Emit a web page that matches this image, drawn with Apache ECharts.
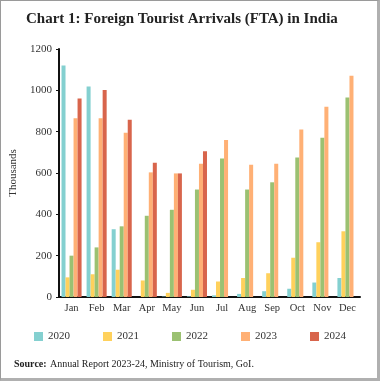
<!DOCTYPE html>
<html><head><meta charset="utf-8">
<script src="https://cdn.jsdelivr.net/npm/echarts@6/dist/echarts.min.js"></script>
<style>
html,body{margin:0;padding:0;background:#fff;}
#frame{position:absolute;left:0;top:0;width:376px;height:377px;border:1px solid #9a9a9a;border-right:3px solid #b0b0b0;border-bottom:3px solid #b0b0b0;box-sizing:content-box;}
#c{position:absolute;left:0;top:0;width:380px;height:381px;}
</style></head>
<body>
<div id="frame"></div>
<div id="c"></div>
<script>
const months = ['Jan','Feb','Mar','Apr','May','Jun','Jul','Aug','Sep','Oct','Nov','Dec'];
const years = ['2020','2021','2022','2023','2024'];
const fta2020 = [1120, 1018, 328, 0, 2, 3, 8, 15, 28, 40, 70, 92];
const fta2021 = [95, 110, 132, 80, 20, 35, 75, 92, 115, 190, 265, 318];
const fta2022 = [200, 240, 342, 393, 422, 520, 670, 520, 555, 675, 770, 965];
const fta2023 = [865, 865, 795, 603, 598, 645, 760, 640, 645, 810, 920, 1070];
const fta2024 = [960, 1002, 858, 650, 598, 705, null, null, null, null, null, null];
const yTicks = [0, 200, 400, 600, 800, 1000, 1200];
const colors = ['#84d0d0', '#ffd15c', '#9bc172', '#ffb075', '#d8654c'];
const seriesData = [fta2020, fta2021, fta2022, fta2023, fta2024];
const serif = '"Liberation Serif","DejaVu Serif",serif';
const chart = echarts.init(document.getElementById('c'));
chart.setOption({
  animation:false,
  textStyle:{fontFamily:serif},
  title:{text:'Chart 1: Foreign Tourist Arrivals (FTA) in India',left:21,top:7,
    textStyle:{fontFamily:serif,fontSize:15,fontWeight:'bold',color:'#222'}},
  graphic:[{type:'text',left:14,top:358,style:{rich:{b:{fontWeight:'bold',fontSize:10,fontFamily:serif,fill:'#222'},n:{fontSize:10,fontFamily:serif,fill:'#222'}},
    text:'{b|Source:} {n|Annual Report 2023-24, Ministry of Tourism, GoI.}'}}],
  legend:{bottom:34,left:'center',itemWidth:9,itemHeight:9,itemGap:33,icon:'rect',
    textStyle:{fontFamily:serif,fontSize:11,color:'#333'},data:years},
  grid:{left:59,right:20,top:49,bottom:84},
  xAxis:{type:'category',data:months,
    axisLine:{lineStyle:{color:'#111',width:2}},
    axisTick:{alignWithLabel:true,length:3,lineStyle:{color:'#111'}},
    axisLabel:{fontFamily:serif,fontSize:10.5,color:'#333',margin:6,interval:0}},
  yAxis:{type:'value',min:0,max:1200,interval:200,
    name:'Thousands',nameLocation:'middle',nameGap:36,nameRotate:90,
    nameTextStyle:{fontFamily:serif,fontSize:11,color:'#333'},
    axisLine:{show:true,lineStyle:{color:'#111',width:2}},
    axisTick:{show:true,length:3,lineStyle:{color:'#111'}},
    splitLine:{show:false},
    axisLabel:{fontFamily:serif,fontSize:11,color:'#333',margin:7,
      formatter:v=>yTicks.includes(v)?String(v):''}},
  series: years.map((y,i)=>({name:y,type:'bar',data:seriesData[i],
    itemStyle:{color:colors[i]},barGap:'0%',barCategoryGap:'20%'}))
});
</script>
</body></html>
